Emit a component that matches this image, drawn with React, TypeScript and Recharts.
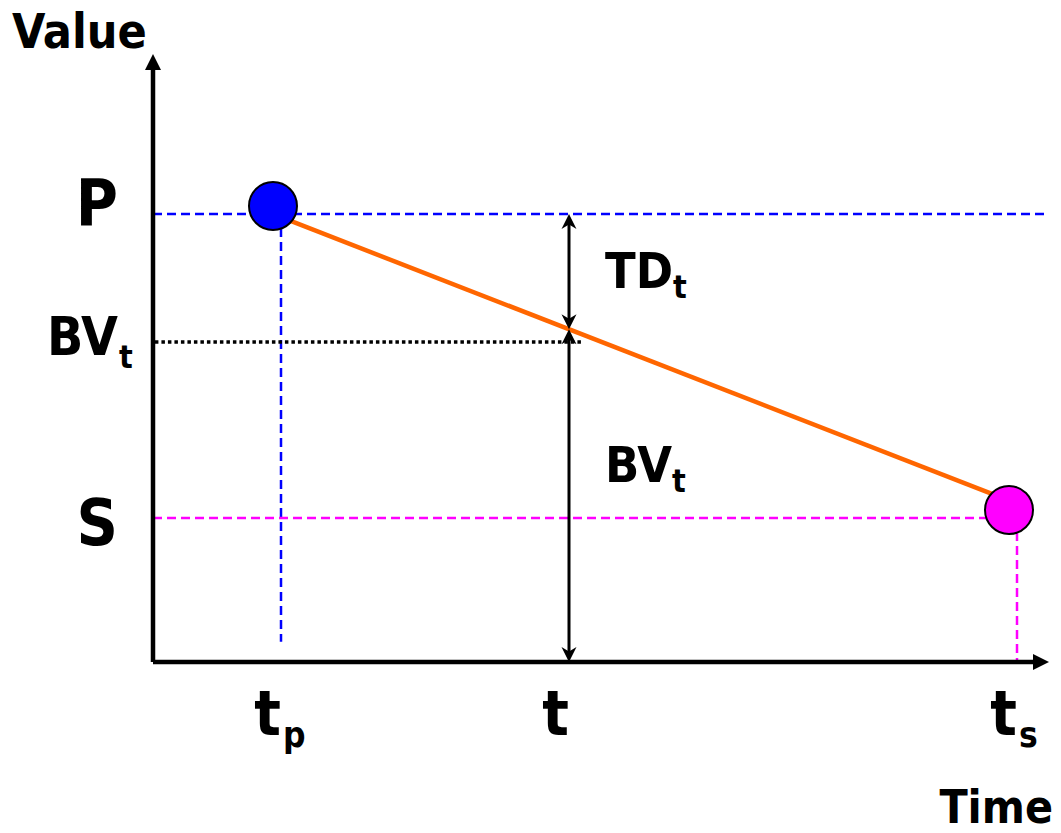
import React from "react";
import {
  ComposedChart,
  XAxis,
  YAxis,
  Line,
  Scatter,
  ReferenceLine,
} from "recharts";

// time axis: purchase, current, salvage
const timeTicks = [4, 13, 27];
const timeTickMain = ["t", "t", "t"];
const timeTickSub = ["p", "", "s"];

// value axis: salvage, book value, purchase price
const valueTicks = [4.5, 10, 14];
const valueTickMain = ["S", "BV", "P"];
const valueTickSub = ["", "t", ""];

const purchase = { t: 4, v: 14 };
const salvage = { t: 27, v: 4.5 };
const current = { t: 13, bv: 10, lineBv: 10.4 };

const deprLine = [
  { x: 4, y: 13.9 },
  { x: 27, y: 4.95 },
];
const purchaseDot = [{ x: 3.75, y: 14.25 }];
const salvageDot = [{ x: 26.75, y: 4.75 }];

const annotations = [
  { x: 14.125, y: 11.69, text: "TD", sub: "t" },
  { x: 14.125, y: 5.63, text: "BV", sub: "t" },
];

const FONT = "'DejaVu Sans Condensed', 'DejaVu Sans', sans-serif";
const valueBaseline: Record<string, number> = { P: 11, BV: 13, S: 27 };

function arrowShape(start: boolean, end: boolean, len: number, half: number, notch: number) {
  return (p: any) => {
    const { x1, y1, x2, y2, stroke, strokeWidth } = p;
    const dx = x2 - x1;
    const dy = y2 - y1;
    const L = Math.sqrt(dx * dx + dy * dy) || 1;
    const ux = dx / L;
    const uy = dy / L;
    const nx = -uy;
    const ny = ux;
    const head = (tx: number, ty: number, dirx: number, diry: number) => {
      const bx = tx - dirx * len;
      const by = ty - diry * len;
      const mx = tx - dirx * len * notch;
      const my = ty - diry * len * notch;
      return `${tx},${ty} ${bx + nx * half},${by + ny * half} ${mx},${my} ${bx - nx * half},${by - ny * half}`;
    };
    const sx = start ? x1 + ux * len * 0.6 : x1;
    const sy = start ? y1 + uy * len * 0.6 : y1;
    const ex = end ? x2 - ux * len * 0.6 : x2;
    const ey = end ? y2 - uy * len * 0.6 : y2;
    return (
      <g>
        <line x1={sx} y1={sy} x2={ex} y2={ey} stroke={stroke} strokeWidth={strokeWidth} />
        {start && <polygon points={head(x1, y1, -ux, -uy)} fill={stroke} />}
        {end && <polygon points={head(x2, y2, ux, uy)} fill={stroke} />}
      </g>
    );
  };
}

const ValueTick = (props: any) => {
  const { x, y, payload } = props;
  const i = valueTicks.indexOf(payload.value);
  const main = valueTickMain[i];
  const sub = valueTickSub[i];
  return (
    <g fontFamily={FONT} fontWeight="bold" fill="#000">
      <text x={x + 1} y={y + valueBaseline[main]} textAnchor="end" fontSize={sub ? 53 : 64}>
        {main}
      </text>
      {sub && (
        <text x={x + 2} y={y + 26} textAnchor="start" fontSize={32}>
          {sub}
        </text>
      )}
    </g>
  );
};

const TimeTick = (props: any) => {
  const { x, y, payload } = props;
  const i = timeTicks.indexOf(payload.value);
  return (
    <g fontFamily={FONT} fontWeight="bold" fill="#000">
      <text x={x} y={y} textAnchor="end" fontSize={62}>
        {timeTickMain[i]}
      </text>
      {timeTickSub[i] && (
        <text x={x + 2} y={y + 12} textAnchor="start" fontSize={35}>
          {timeTickSub[i]}
        </text>
      )}
    </g>
  );
};

const Annotation = (props: any) => {
  const { cx, cy, payload } = props;
  return (
    <text x={cx} y={cy} fontFamily={FONT} fontWeight="bold" fontSize={50} fill="#000">
      <tspan>{payload.text}</tspan>
      <tspan fontSize={32} dy={10}>
        {payload.sub}
      </tspan>
    </text>
  );
};

const circleShape = (fill: string) => (p: any) =>
  <circle cx={p.cx} cy={p.cy} r={24} fill={fill} stroke="#000" strokeWidth={2} />;

export default function App() {
  return (
    <div style={{ position: "absolute", left: 0, top: 0, background: "#fff" }}>
      <ComposedChart width={1061} height={833} margin={{ top: 54, right: 12, bottom: 0, left: 0 }}>
        <XAxis
          type="number"
          dataKey="x"
          domain={[0, 28]}
          allowDataOverflow
          ticks={timeTicks}
          interval={0}
          axisLine={false}
          tickLine={false}
          tickSize={0}
          tickMargin={73}
          height={171}
          tick={<TimeTick />}
          label={{
            content: (p: any) => (
              <text
                x={p.viewBox.x + p.viewBox.width + 4}
                y={823}
                textAnchor="end"
                fontFamily={FONT}
                fontWeight="bold"
                fontSize={46}
                fill="#000"
              >
                Time
              </text>
            ),
          }}
        />
        <YAxis
          type="number"
          dataKey="y"
          domain={[0, 19]}
          allowDataOverflow
          ticks={valueTicks}
          interval={0}
          axisLine={false}
          tickLine={false}
          tickSize={0}
          tickMargin={36}
          width={153}
          tick={<ValueTick />}
          label={{
            content: (p: any) => (
              <text
                x={12}
                y={p.viewBox.y - 6}
                fontFamily={FONT}
                fontWeight="bold"
                fontSize={48}
                fill="#000"
              >
                Value
              </text>
            ),
          }}
        />

        <ReferenceLine
          segment={[{ x: 0, y: purchase.v }, { x: 28, y: purchase.v }]}
          stroke="#0000FF"
          strokeWidth={2.5}
          strokeDasharray="9 5"
        />
        <ReferenceLine
          segment={[{ x: purchase.t, y: purchase.v }, { x: purchase.t, y: 0.63 }]}
          stroke="#0000FF"
          strokeWidth={2.5}
          strokeDasharray="9 5"
        />
        <ReferenceLine
          segment={[{ x: 0, y: salvage.v }, { x: salvage.t, y: salvage.v }]}
          stroke="#FF00FF"
          strokeWidth={2.5}
          strokeDasharray="9 5"
        />
        <ReferenceLine
          segment={[{ x: salvage.t, y: salvage.v }, { x: salvage.t, y: 0 }]}
          stroke="#FF00FF"
          strokeWidth={2.5}
          strokeDasharray="9 5"
        />
        <ReferenceLine
          segment={[{ x: 0.06, y: current.bv }, { x: 13.44, y: current.bv }]}
          stroke="#000"
          strokeWidth={3.5}
          strokeDasharray="3.5 3"
        />

        <ReferenceLine
          segment={[{ x: 0, y: 0 }, { x: 0, y: 19 }]}
          stroke="#000"
          strokeWidth={4.5}
          shape={arrowShape(false, true, 16, 8, 1)}
        />
        <ReferenceLine
          segment={[{ x: 0, y: 0 }, { x: 28, y: 0 }]}
          stroke="#000"
          strokeWidth={4.5}
          shape={arrowShape(false, true, 16, 8, 1)}
        />

        <Line
          data={deprLine}
          dataKey="y"
          type="linear"
          stroke="#FF6600"
          strokeWidth={4.5}
          dot={false}
          activeDot={false}
          isAnimationActive={false}
        />

        <ReferenceLine
          segment={[{ x: current.t, y: purchase.v }, { x: current.t, y: current.lineBv }]}
          stroke="#000"
          strokeWidth={3}
          shape={arrowShape(true, true, 15, 7.5, 0.7)}
        />
        <ReferenceLine
          segment={[{ x: current.t, y: current.lineBv }, { x: current.t, y: 0 }]}
          stroke="#000"
          strokeWidth={3}
          shape={arrowShape(true, true, 15, 7.5, 0.7)}
        />

        <Scatter data={purchaseDot} dataKey="y" shape={circleShape("#0000FF")} isAnimationActive={false} />
        <Scatter data={salvageDot} dataKey="y" shape={circleShape("#FF00FF")} isAnimationActive={false} />
        <Scatter data={annotations} dataKey="y" shape={Annotation} isAnimationActive={false} />
      </ComposedChart>
    </div>
  );
}
